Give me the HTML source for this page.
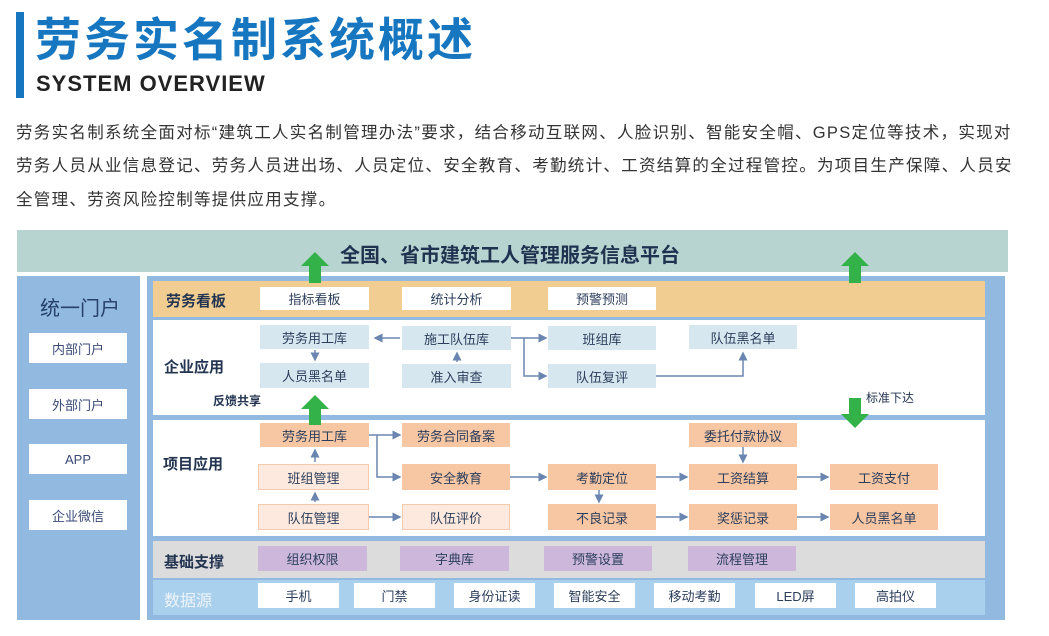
<!DOCTYPE html>
<html><head><meta charset="utf-8"><style>
*{margin:0;padding:0;box-sizing:border-box}
body{width:1049px;height:636px;background:#fff;position:relative;overflow:hidden;font-family:"Liberation Sans","Noto Sans CJK SC",sans-serif;color:#2a3a55}
.a{position:absolute}
.b{position:absolute;display:flex;align-items:center;justify-content:center;font-size:13px;color:#2c3e5c}
.w{background:#fff}.lb{background:#d6e7ef}.or{background:#f7c6a2}.lo{background:#fde9dd;border:1px solid #f5c9ad}.pu{background:#cdb8dc}
.p{position:absolute;left:16px;font-size:16.5px;color:#333;white-space:nowrap;letter-spacing:1.3px}
.lab{position:absolute;font-size:15px;font-weight:bold;color:#243552}
</style></head><body>
<div class="a" style="left:16px;top:12px;width:8px;height:86px;background:#1676c0"></div>
<div class="a" style="left:35px;top:10px;font-size:46px;font-weight:bold;color:#1676c0;letter-spacing:3px;line-height:60px">劳务实名制系统概述</div>
<div class="a" style="left:36px;top:70px;font-size:22px;font-weight:bold;color:#222;letter-spacing:1px;line-height:28px">SYSTEM OVERVIEW</div>
<div class="p" style="top:119px">劳务实名制系统全面对标“建筑工人实名制管理办法”要求，结合移动互联网、人脸识别、智能安全帽、GPS定位等技术，实现对</div>
<div class="p" style="top:152px">劳务人员从业信息登记、劳务人员进出场、人员定位、安全教育、考勤统计、工资结算的全过程管控。为项目生产保障、人员安</div>
<div class="p" style="top:186px">全管理、劳资风险控制等提供应用支撑。</div>

<div class="a" style="left:17px;top:230px;width:991px;height:42px;background:#b8d4d1"></div>
<div class="a" style="left:340px;top:239px;font-size:20px;font-weight:bold;color:#1f3350">全国、省市建筑工人管理服务信息平台</div>

<div class="a" style="left:17px;top:276px;width:123px;height:344px;background:#92b9e0"></div>
<div class="a" style="left:40px;top:292px;font-size:20px;color:#25406a">统一门户</div>
<div class="b w" style="left:29px;top:333px;width:98px;height:30px;color:#3a4a78">内部门户</div>
<div class="b w" style="left:29px;top:389px;width:98px;height:30px;color:#3a4a78">外部门户</div>
<div class="b w" style="left:29px;top:444px;width:98px;height:30px;color:#3a4a78">APP</div>
<div class="b w" style="left:29px;top:500px;width:98px;height:30px;color:#3a4a78">企业微信</div>

<div class="a" style="left:147px;top:276px;width:858px;height:344px;background:#92b9e0"></div>
<div class="a" style="left:153px;top:281px;width:832px;height:36px;background:#f2cd91"></div>
<div class="lab" style="left:166px;top:290px">劳务看板</div>
<div class="b w" style="left:260px;top:287px;width:109px;height:23px">指标看板</div>
<div class="b w" style="left:402px;top:287px;width:109px;height:23px">统计分析</div>
<div class="b w" style="left:548px;top:287px;width:108px;height:23px">预警预测</div>

<div class="a" style="left:153px;top:320px;width:832px;height:95px;background:#fff"></div>
<div class="lab" style="left:164px;top:356px">企业应用</div>
<div class="b lb" style="left:260px;top:325px;width:109px;height:24px">劳务用工库</div>
<div class="b lb" style="left:260px;top:363px;width:109px;height:25px">人员黑名单</div>
<div class="b lb" style="left:402px;top:326px;width:109px;height:24px">施工队伍库</div>
<div class="b lb" style="left:402px;top:364px;width:109px;height:24px">准入审查</div>
<div class="b lb" style="left:548px;top:326px;width:108px;height:24px">班组库</div>
<div class="b lb" style="left:548px;top:364px;width:108px;height:24px">队伍复评</div>
<div class="b lb" style="left:689px;top:325px;width:108px;height:24px">队伍黑名单</div>
<div class="a" style="left:213px;top:392px;font-size:12px;font-weight:bold;color:#243552">反馈共享</div>
<div class="a" style="left:866px;top:389px;font-size:12px;color:#243552">标准下达</div>

<div class="a" style="left:153px;top:420px;width:832px;height:116px;background:#fff"></div>
<div class="lab" style="left:163px;top:453px">项目应用</div>
<div class="b or" style="left:260px;top:423px;width:109px;height:24px">劳务用工库</div>
<div class="b or" style="left:402px;top:423px;width:108px;height:24px">劳务合同备案</div>
<div class="b or" style="left:689px;top:423px;width:108px;height:24px">委托付款协议</div>
<div class="b lo" style="left:258px;top:464px;width:111px;height:26px">班组管理</div>
<div class="b or" style="left:402px;top:464px;width:108px;height:26px">安全教育</div>
<div class="b or" style="left:548px;top:464px;width:108px;height:26px">考勤定位</div>
<div class="b or" style="left:689px;top:464px;width:108px;height:26px">工资结算</div>
<div class="b or" style="left:830px;top:464px;width:108px;height:26px">工资支付</div>
<div class="b lo" style="left:258px;top:504px;width:111px;height:26px">队伍管理</div>
<div class="b lo" style="left:402px;top:504px;width:108px;height:26px">队伍评价</div>
<div class="b or" style="left:548px;top:504px;width:108px;height:26px">不良记录</div>
<div class="b or" style="left:689px;top:504px;width:108px;height:26px">奖惩记录</div>
<div class="b or" style="left:830px;top:504px;width:108px;height:26px">人员黑名单</div>

<div class="a" style="left:153px;top:541px;width:832px;height:37px;background:#dcdcdc"></div>
<div class="lab" style="left:164px;top:551px">基础支撑</div>
<div class="b pu" style="left:258px;top:546px;width:109px;height:25px">组织权限</div>
<div class="b pu" style="left:400px;top:546px;width:109px;height:25px">字典库</div>
<div class="b pu" style="left:544px;top:546px;width:108px;height:25px">预警设置</div>
<div class="b pu" style="left:688px;top:546px;width:108px;height:25px">流程管理</div>

<div class="a" style="left:153px;top:580px;width:832px;height:35px;background:#a9d0ec"></div>
<div class="a" style="left:164px;top:587px;font-size:16px;color:#eef4fa">数据源</div>
<div class="b w" style="left:258px;top:583px;width:81px;height:25px">手机</div>
<div class="b w" style="left:354px;top:583px;width:81px;height:25px">门禁</div>
<div class="b w" style="left:454px;top:583px;width:81px;height:25px">身份证读</div>
<div class="b w" style="left:554px;top:583px;width:81px;height:25px">智能安全</div>
<div class="b w" style="left:654px;top:583px;width:81px;height:25px">移动考勤</div>
<div class="b w" style="left:755px;top:583px;width:81px;height:25px">LED屏</div>
<div class="b w" style="left:855px;top:583px;width:81px;height:25px">高拍仪</div>

<svg class="a" style="left:0;top:0" width="1049" height="636">
<defs><marker id="m" markerWidth="6" markerHeight="6" refX="5" refY="3" orient="auto"><path d="M0,0L6,3L0,6z" fill="#6a86b0"/></marker></defs>
<g stroke="#6a86b0" stroke-width="1.5" fill="none" marker-end="url(#m)">
<path d="M315,350V360"/>
<path d="M400,338H375"/>
<path d="M457,362V353"/>
<path d="M511,338H524V338H546"/>
<path d="M524,338V376H546"/>
<path d="M656,376H743V353"/>
<path d="M369,435H400"/>
<path d="M377,435V477H400"/>
<path d="M315,462V450"/>
<path d="M315,502V493"/>
<path d="M369,517H400"/>
<path d="M510,477H546"/>
<path d="M656,477H687"/>
<path d="M797,477H828"/>
<path d="M743,447V462"/>
<path d="M599,490V502"/>
<path d="M656,517H687"/>
<path d="M797,517H828"/>
</g>
<g fill="#34b24a">
<path d="M301,266L315,252L329,266H321V283H309V266Z"/>
<path d="M841,266L855,252L869,266H861V283H849V266Z"/>
<path d="M301,409L315,395L329,409H321V425H309V409Z"/>
<path d="M849,398H861V414H869L855,428L841,414H849Z"/>
</g>
</svg>
</body></html>
